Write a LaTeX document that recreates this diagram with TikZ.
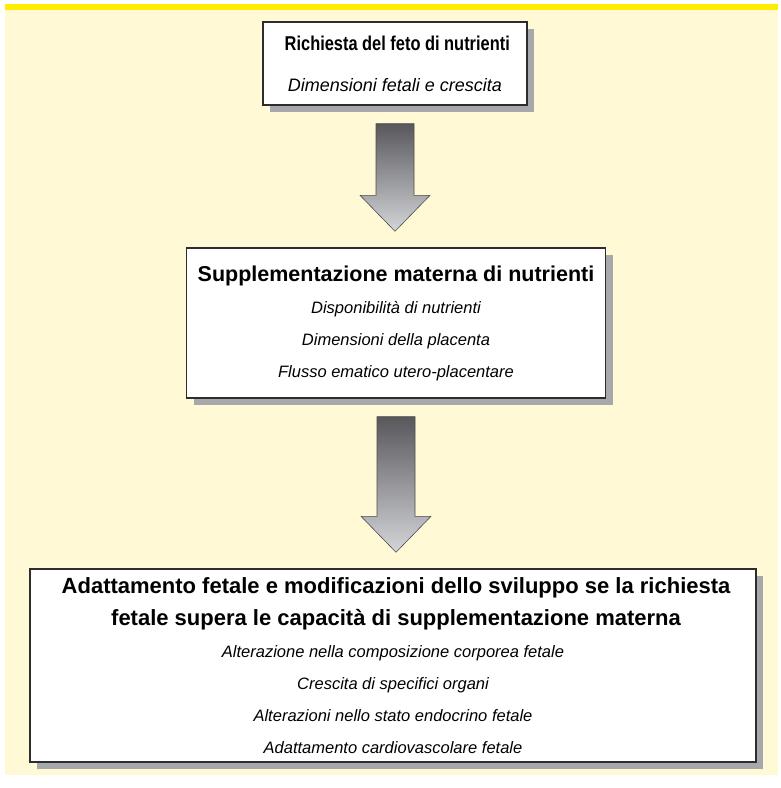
\documentclass[tikz,border=0pt]{standalone}
\usepackage{fontspec}
\setmainfont{Liberation Sans}
\usetikzlibrary{calc,shadows,positioning}

\definecolor{crema}{RGB}{255,249,214}
\definecolor{giallo}{RGB}{255,236,0}
\definecolor{ombra}{RGB}{166,168,171}
\definecolor{bordo}{RGB}{45,45,45}
\definecolor{scuro}{RGB}{88,88,92}
\definecolor{chiaro}{RGB}{212,213,216}

\tikzset{
  riquadro/.style={draw=bordo,line width=1.4pt,fill=white,align=center,inner sep=0pt,
    font=\voce,
    drop shadow={shadow xshift=7pt,shadow yshift=-7pt,fill=ombra,opacity=1}},
  freccia/.style={draw=bordo!85,line width=0.6pt,top color=scuro,bottom color=chiaro}
}
\newcommand{\titolo}[1][21.5]{\upshape\bfseries\fontsize{#1}{32}\selectfont}
\newcommand{\voce}{\itshape\fontsize{16.5}{32}\selectfont}
% freccia a blocco tra due riquadri
\newcommand{\frecciona}[2]{%
  \path[freccia] let \p1=(#1.south), \p2=(#2.north) in
    (\x1-19pt,\y1-18pt) -- (\x1+19pt,\y1-18pt) -- (\x1+19pt,\y2+52pt)
    -- (\x1+35pt,\y2+52pt) -- (\x1,\y2+16pt) -- (\x1-35pt,\y2+52pt)
    -- (\x1-19pt,\y2+52pt) -- cycle;}

\begin{document}
\begin{tikzpicture}[x=1pt,y=1pt]
\useasboundingbox (0,0) rectangle (781,-788);
\fill[crema] (5,-4) rectangle (778,-775);
\fill[giallo] (5,-4) rectangle (778,-10);

\node[riquadro,minimum width=264pt,minimum height=83pt] (feto) at (395,-63.5)
  {\scalebox{0.82}[1]{\titolo[20] Richiesta del feto di nutrienti}\\[9pt]
   {\fontsize{18}{32}\selectfont Dimensioni fetali e crescita}};
\node[riquadro,minimum width=419pt,minimum height=150pt] (madre) at (396,-323)
  {{\titolo Supplementazione materna di nutrienti}\\
   Disponibilità di nutrienti\\
   Dimensioni della placenta\\
   Flusso ematico utero-placentare};
\node[riquadro,minimum width=726pt,minimum height=193pt] (adatta) at (393,-665.5)
  {{\titolo[22] Adattamento fetale e modificazioni dello sviluppo se la richiesta}\\
   {\titolo[22] fetale supera le capacità di supplementazione materna}\\
   Alterazione nella composizione corporea fetale\\
   Crescita di specifici organi\\
   Alterazioni nello stato endocrino fetale\\
   Adattamento cardiovascolare fetale};

\frecciona{feto}{madre}
\frecciona{madre}{adatta}
\end{tikzpicture}
\end{document}
